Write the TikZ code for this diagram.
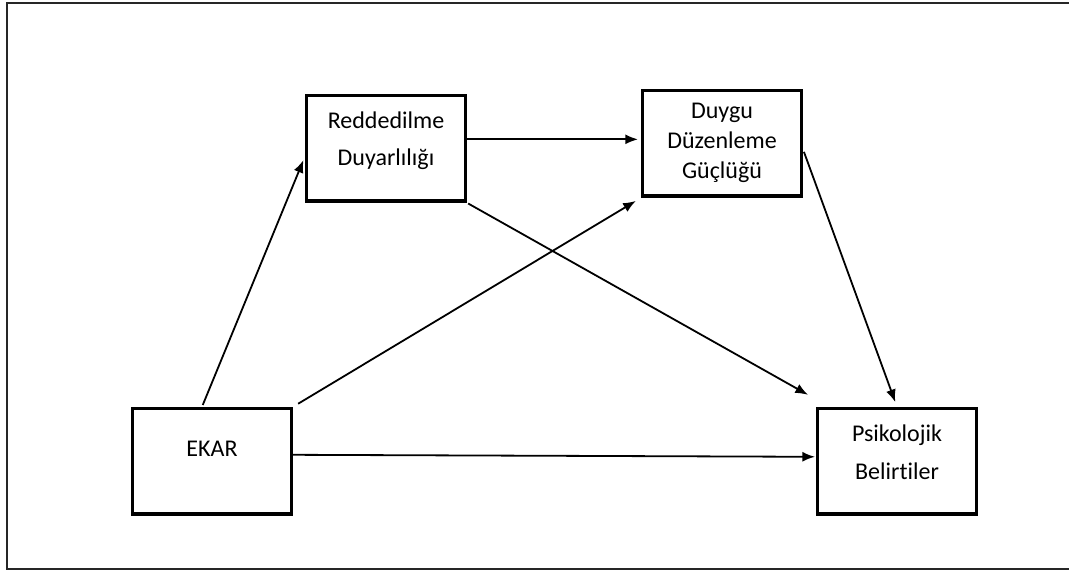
\documentclass[tikz,border=0pt]{standalone}
\usepackage{fontspec}
\setmainfont{Carlito}[Ligatures=NoCommon]
\usetikzlibrary{positioning,arrows.meta}

\begin{document}
\begin{tikzpicture}[>={Latex[length=9.5pt,width=7.5pt]}, every node/.style={rectangle},
    box/.style={draw, line width=2.6pt, minimum width=118.9pt, minimum height=79.15pt, inner sep=0pt, align=center, font=\fontsize{18}{28}\selectfont},
    effect/.style={->, line width=1.35pt, shorten >=3pt}]
    \useasboundingbox (0,0) rectangle (801.75pt,-427.5pt);

    % Frame
    \draw[line width=1.5pt, black!85] (801.75pt,-2.25pt) -- (5.25pt,-2.25pt) -- (5.25pt,-426.75pt) -- (801.75pt,-426.75pt);

    % Nodes
    \node (ekar) [box] at (159pt,-346pt) {EKAR\rule[-19.5pt]{0pt}{19.5pt}};
    \node (reddedilme) [box, above right=153pt and 9pt of ekar] {Reddedilme\\Duyarlılığı\rule[-14pt]{0pt}{14pt}};
    \node (duygu) [box, right=130.5pt of reddedilme, yshift=3.75pt, font=\fontsize{18}{22.5}\selectfont] {Duygu\\Düzenleme\\Güçlüğü};
    \node (psikolojik) [box, right=392.25pt of ekar] {Psikolojik\\Belirtiler\rule[-14pt]{0pt}{14pt}};

    % Paths from EKAR
    \draw[effect, shorten <=1.5pt] ([xshift=-7.5pt]ekar.north) to ([yshift=-6pt]reddedilme.west);
    \draw[effect, shorten <=4.5pt, shorten >=4.5pt] (ekar.north east) to (duygu.south west);
    \draw[effect, shorten >=0.75pt] ([yshift=4.9pt]ekar.east) to ([yshift=3.4pt]psikolojik.west);

    % Paths from the mediators
    \draw[effect, shorten >=2.25pt] ([yshift=6.75pt]reddedilme.east) to ([yshift=3pt]duygu.west);
    \draw[effect, shorten >=0pt, shorten <=1pt] (reddedilme.south east) to ([xshift=-6pt, yshift=9pt]psikolojik.north west);
    \draw[effect, shorten <=2pt, shorten >=3.75pt] ([yshift=-4.5pt]duygu.east) to (psikolojik.north);

\end{tikzpicture}
\end{document}
